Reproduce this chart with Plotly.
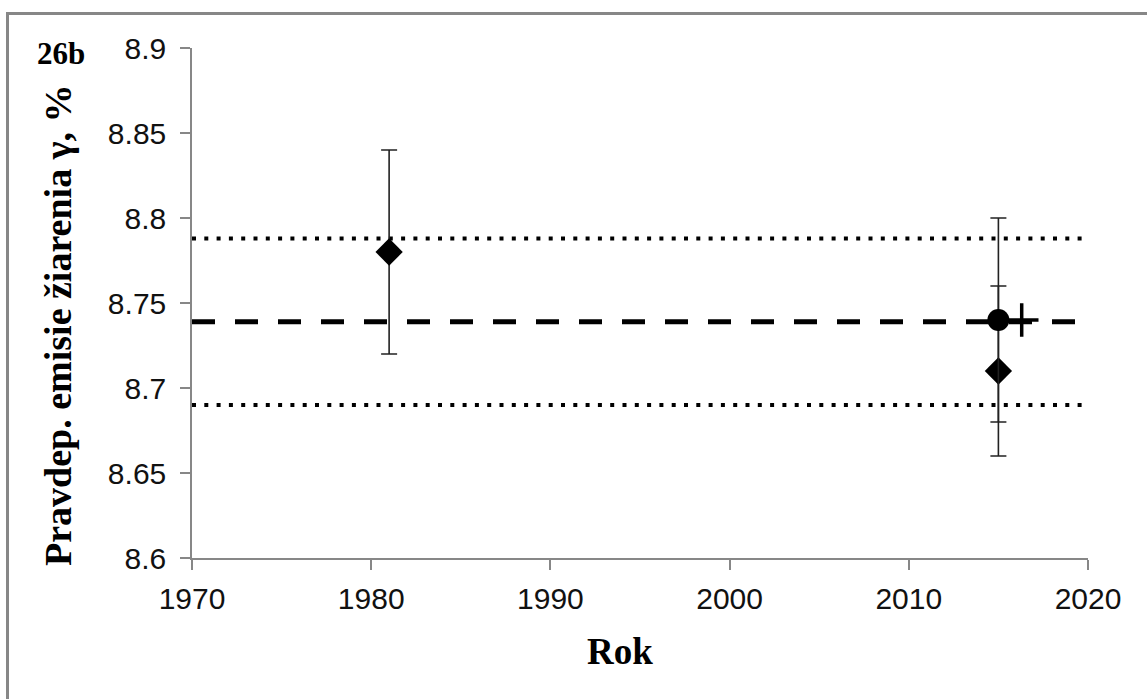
import plotly.graph_objects as go

# Measured gamma emission probabilities (%) by year
diamond_years = [1981, 2015]
diamond_values = [8.78, 8.71]
diamond_errors = [0.06, 0.05]

circle_years = [2015]
circle_values = [8.74]
circle_errors = [0.06]

plus_years = [2016.3]
plus_values = [8.74]

# Recommended value and its uncertainty band
line_years = [1970, 2020]
mean_value = 8.739
upper_value = 8.788
lower_value = 8.690

y_ticks = [8.6, 8.65, 8.7, 8.75, 8.8, 8.85, 8.9]
y_tick_text = ["8.6", "8.65", "8.7", "8.75", "8.8", "8.85", "8.9"]
x_ticks = [1970, 1980, 1990, 2000, 2010, 2020]

W, H = 1147, 699
L, R, T, B = 192, 59, 48, 141
pw, ph = W - L - R, H - T - B


def px_x(p):
    return (p - L) / pw


def px_y(p):
    return (H - B - p) / ph


fig = go.Figure()

fig.add_trace(go.Scatter(
    x=line_years, y=[upper_value] * 2, mode="lines",
    line=dict(color="black", width=4, dash="4px,8.3px"), hoverinfo="skip"))
fig.add_trace(go.Scatter(
    x=line_years, y=[lower_value] * 2, mode="lines",
    line=dict(color="black", width=4, dash="4px,8.3px"), hoverinfo="skip"))
fig.add_trace(go.Scatter(
    x=line_years, y=[mean_value] * 2, mode="lines",
    line=dict(color="black", width=5, dash="23px,20px"), hoverinfo="skip"))

err_style = dict(type="data", color="#222222", thickness=1.6, width=8)

fig.add_trace(go.Scatter(
    x=diamond_years, y=diamond_values, mode="markers",
    marker=dict(symbol="diamond", size=21, color="black"),
    error_y=dict(array=diamond_errors, **err_style)))
fig.add_trace(go.Scatter(
    x=circle_years, y=circle_values, mode="markers",
    marker=dict(symbol="circle", size=22, color="black"),
    error_y=dict(array=circle_errors, **err_style)))
fig.add_trace(go.Scatter(
    x=plus_years, y=plus_values, mode="markers",
    marker=dict(symbol="cross-thin", size=24, color="black",
                line=dict(color="black", width=3.5))))

axis_color = "#878787"
tick_font = dict(family="Liberation Sans, Arial", size=30, color="#111111")

fig.update_layout(
    width=W, height=H,
    margin=dict(l=L, r=R, t=T, b=B),
    paper_bgcolor="white", plot_bgcolor="white",
    showlegend=False,
    xaxis=dict(
        range=[1970, 2020], tickvals=x_ticks, ticks="outside", ticklen=10,
        tickwidth=1.5, tickcolor=axis_color, showline=True, linecolor=axis_color,
        linewidth=1.5, showgrid=False, zeroline=False, tickfont=tick_font,
        ticklabelstandoff=3),
    yaxis=dict(
        range=[8.6, 8.9], tickvals=y_ticks, ticktext=y_tick_text, ticks="outside",
        ticklen=10, tickwidth=1.5, tickcolor=axis_color, showline=True,
        linecolor=axis_color, linewidth=1.5, showgrid=False, zeroline=False,
        tickfont=tick_font, ticklabelstandoff=8),
)

serif_bold = dict(family="Liberation Serif, Times New Roman", color="black", weight="bold")

fig.add_annotation(
    text="Pravdep. emisie žiarenia γ, %", xref="paper", yref="paper",
    x=px_x(58), y=px_y(326), textangle=-90, showarrow=False,
    xanchor="center", yanchor="middle", font=dict(size=38, **serif_bold))
fig.add_annotation(
    text="Rok", xref="paper", yref="paper", x=px_x(620), y=px_y(651),
    showarrow=False, xanchor="center", yanchor="middle",
    font=dict(size=37, **serif_bold))
fig.add_annotation(
    text="26b", xref="paper", yref="paper", x=px_x(61), y=px_y(54),
    showarrow=False, xanchor="center", yanchor="middle",
    font=dict(size=31, **serif_bold))

# Chart frame (top and left edges visible)
fig.add_shape(
    type="path", xref="paper", yref="paper",
    path=f"M {px_x(7.5)},{px_y(720)} L {px_x(7.5)},{px_y(13.5)} L {px_x(1160)},{px_y(13.5)}",
    line=dict(color=axis_color, width=3))

fig.write_html("out.html")
